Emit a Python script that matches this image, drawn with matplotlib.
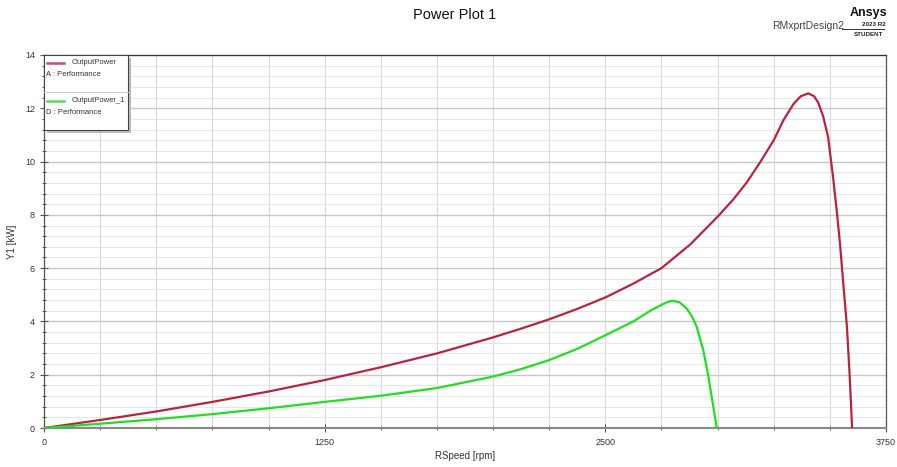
import matplotlib
matplotlib.use("Agg")
import matplotlib.pyplot as plt
from matplotlib.ticker import MultipleLocator, FixedLocator

plt.rcParams['font.family'] = ['Liberation Sans', 'DejaVu Sans']

# OutputPower (A : Performance)
rpm_a = [0, 250, 500, 750, 1000, 1250, 1500, 1750, 2000, 2125, 2250, 2375,
         2500, 2625, 2750, 2877, 3000, 3070, 3130, 3190, 3250, 3293, 3337,
         3370, 3404, 3430, 3449, 3470, 3492, 3514, 3530, 3545, 3560, 3576,
         3588, 3599]
kw_a = [0, 0.30, 0.62, 0.98, 1.37, 1.80, 2.28, 2.80, 3.40, 3.73, 4.08, 4.47,
        4.90, 5.42, 6.0, 6.88, 7.93, 8.58, 9.22, 9.98, 10.8, 11.55, 12.15,
        12.45, 12.56, 12.45, 12.2, 11.7, 10.93, 9.43, 8.2, 6.93, 5.4, 3.8,
        2.0, 0]

# OutputPower_1 (D : Performance)
rpm_d = [0, 250, 500, 750, 1000, 1250, 1500, 1750, 2000, 2125, 2250, 2375,
         2500, 2625, 2700, 2750, 2775, 2797, 2830, 2862, 2885, 2907, 2936,
         2959, 2981, 2996]
kw_d = [0, 0.16, 0.33, 0.52, 0.74, 0.98, 1.21, 1.50, 1.93, 2.21, 2.55, 2.97,
        3.48, 4.0, 4.40, 4.62, 4.72, 4.78, 4.72, 4.49, 4.2, 3.8, 2.93, 1.93,
        0.80, 0]

x_labels = [0, 1250, 2500, 3750]
red = '#b8243c'
green = '#22dd22'

W, H = 897, 467
fig = plt.figure(figsize=(W / 100, H / 100), dpi=100)
ax = fig.add_axes([44 / W, (H - 428) / H, (886 - 44) / W, (428 - 55) / H])

ax.plot(rpm_a, kw_a, color=red, lw=1.6, zorder=3)
ax.plot(rpm_d, kw_d, color=green, lw=1.6, zorder=3)

ax.set_xlim(0, 3750)
ax.set_ylim(0, 14)
ax.xaxis.set_major_locator(FixedLocator(x_labels))
ax.xaxis.set_minor_locator(MultipleLocator(250))
ax.yaxis.set_major_locator(MultipleLocator(2))
ax.yaxis.set_minor_locator(MultipleLocator(0.4))

ax.grid(True, axis='x', which='both', color='#dadada', lw=0.8)
ax.grid(True, axis='y', which='major', color='#c8c8c8', lw=1.0)
ax.grid(True, axis='y', which='minor', color='#e6e6e6', lw=0.7)
ax.set_axisbelow(True)

for s in ax.spines.values():
    s.set_color('#555555')
    s.set_linewidth(0.9)
ax.spines['top'].set_color('#333333')
ax.spines['bottom'].set_color('#888888')
ax.spines['bottom'].set_linewidth(1.5)

ax.tick_params(axis='both', which='major', direction='inout', length=6,
               width=0.8, color='#555555', labelsize=6.5, labelcolor='#333333')
ax.tick_params(axis='both', which='minor', direction='inout', length=3,
               width=0.7, color='#555555')
ax.tick_params(axis='x', pad=4)


def px(x, y):
    return x / W, 1 - y / H


fig.text(*px(465, 456), 'RSpeed [rpm]', ha='center', va='center',
         fontsize=7, color='#333333')
fig.text(*px(12, 242), 'Y1 [kW]', ha='center', va='center', rotation=90,
         fontsize=7, color='#333333')

fig.text(*px(455, 15), 'Power Plot 1', ha='center', va='center',
         fontsize=10.5, color='#111111')
fig.text(*px(808, 26), 'RMxprtDesign2', ha='center', va='center',
         fontsize=7.5, color='#444444')
fig.text(*px(868, 13), 'Ansys', ha='center', va='center',
         fontsize=9, fontweight='bold', color='#111111')
fig.text(*px(874, 24), '2023 R2', ha='center', va='center',
         fontsize=4.5, fontweight='bold', color='#222222')
fig.add_artist(plt.Line2D([842 / W, 884 / W], [1 - 29 / H, 1 - 29 / H],
                          color='#333333', lw=0.7, transform=fig.transFigure))
fig.text(*px(869, 34), 'STUDENT', ha='center', va='center',
         fontsize=4.5, fontweight='bold', color='#222222')

# legend box drawn by hand in pixel space
shadow = plt.Rectangle(px(47, 133), 84 / W, 75 / H, transform=fig.transFigure,
                       facecolor='#bdbdbd', edgecolor='none', zorder=4)
box = plt.Rectangle(px(44, 130), 84 / W, 75 / H, transform=fig.transFigure,
                    facecolor='white', edgecolor='#444444', lw=0.8, zorder=5)
fig.add_artist(shadow)
fig.add_artist(box)
fig.add_artist(plt.Line2D([47 / W, 64 / W], [1 - 63 / H] * 2, color='#c8506a',
                          lw=1.8, transform=fig.transFigure, zorder=6))
fig.text(*px(72, 63), 'OutputPower', fontsize=5.5, va='center',
         color='#333333', zorder=6)
fig.text(*px(46, 75), 'A : Performance', fontsize=5.5, va='center',
         color='#333333', zorder=6)
fig.add_artist(plt.Line2D([44 / W, 128 / W], [1 - 92 / H] * 2, color='#cccccc',
                          lw=0.7, transform=fig.transFigure, zorder=6))
fig.add_artist(plt.Line2D([47 / W, 64 / W], [1 - 101 / H] * 2, color='#55dd55',
                          lw=1.8, transform=fig.transFigure, zorder=6))
fig.text(*px(72, 101), 'OutputPower_1', fontsize=5.5, va='center',
         color='#333333', zorder=6)
fig.text(*px(46, 112), 'D : Performance', fontsize=5.5, va='center',
         color='#333333', zorder=6)

fig.savefig('out.png', dpi=100)
